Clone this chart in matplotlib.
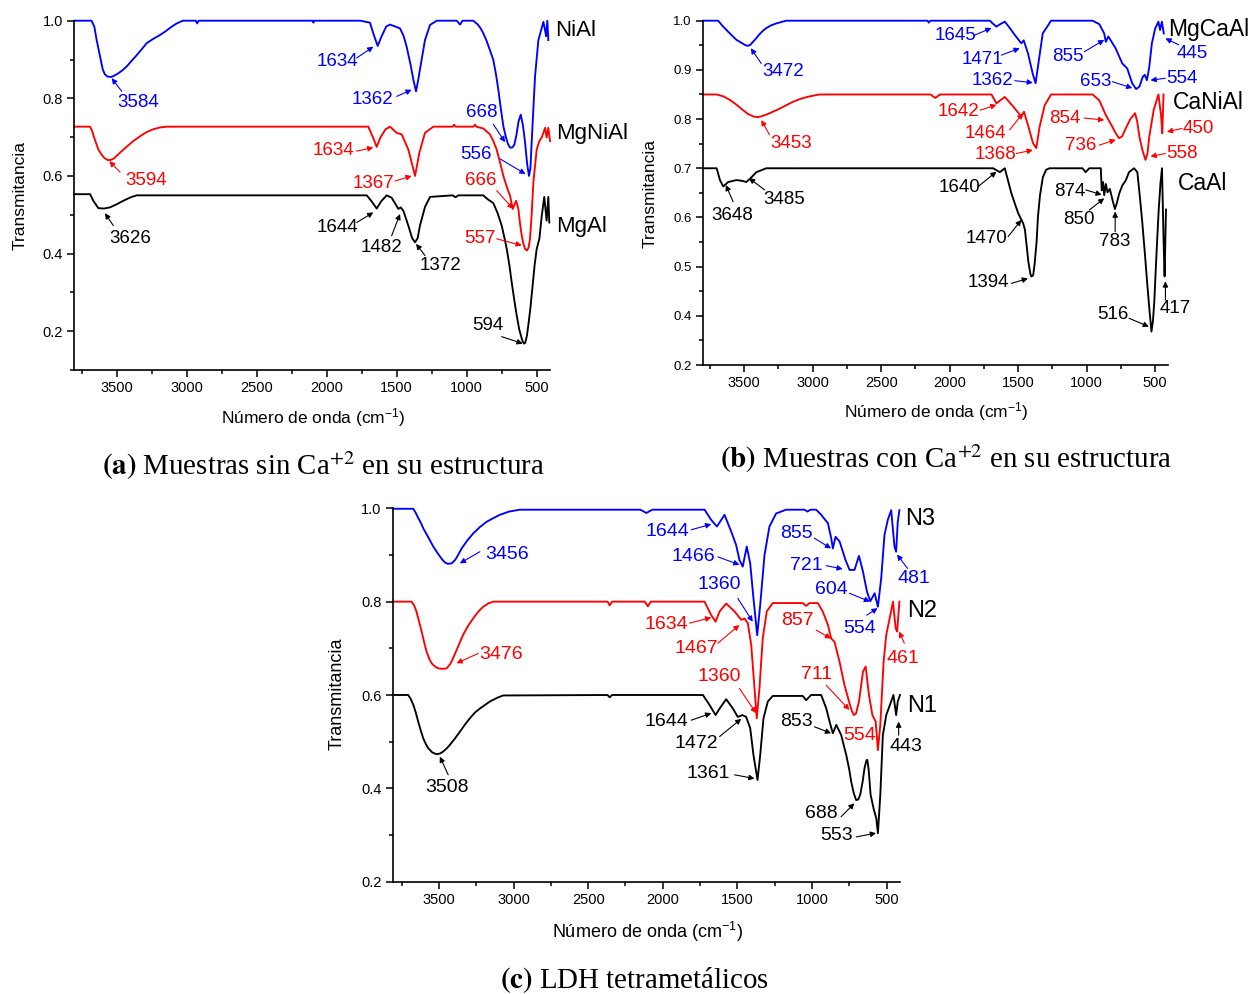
import numpy as np
import matplotlib
matplotlib.use("Agg")
import matplotlib.pyplot as plt
from matplotlib.ticker import MultipleLocator

plt.rcParams['font.family'] = ['Liberation Sans', 'DejaVu Sans']
plt.rcParams['mathtext.fontset'] = 'custom'
plt.rcParams['mathtext.rm'] = 'Liberation Sans'
plt.rcParams['mathtext.it'] = 'Liberation Sans:italic'
plt.rcParams['mathtext.bf'] = 'Liberation Sans:bold'

# ---------------------------------------------------------------- data
# (a) samples without Ca
nial_wn = [3805, 3680, 3660, 3643, 3619, 3600, 3585, 3565, 3540, 3520, 3490, 3460, 3429, 3395, 3360,
           3320, 3286, 3240, 3191, 3150, 3110, 3071, 3040, 3026, 2935, 2925, 2915, 2100, 2095, 2090,
           1760, 1691, 1665, 1636, 1610, 1575, 1548, 1510, 1476, 1450, 1429, 1400, 1381, 1362, 1345,
           1334, 1298, 1262, 1214, 1071, 1048, 1030, 953, 920, 900, 882, 860, 845, 825, 810, 790, 774,
           755, 738, 720, 705, 690, 675, 660, 645, 630, 614, 598, 583, 568, 555, 545, 536, 512, 488,
           452, 440, 433, 424, 417]
nial_t = [1.0, 1.0, 0.985, 0.95, 0.908, 0.875, 0.862, 0.856, 0.855, 0.858, 0.864, 0.872, 0.882, 0.896,
          0.91, 0.927, 0.942, 0.953, 0.963, 0.973, 0.984, 0.993, 0.998, 1.0, 1.0, 0.993, 1.0, 1.0,
          0.995, 1.0, 1.0, 0.995, 0.965, 0.935, 0.958, 0.985, 0.99, 0.985, 0.98, 0.96, 0.933, 0.885,
          0.848, 0.818, 0.85, 0.874, 0.95, 0.989, 1.0, 1.0, 0.99, 1.0, 1.0, 0.99, 0.98, 0.968, 0.95,
          0.935, 0.915, 0.899, 0.86, 0.822, 0.77, 0.728, 0.70, 0.682, 0.673, 0.673, 0.68, 0.705, 0.74,
          0.758, 0.73, 0.686, 0.63, 0.60, 0.62, 0.686, 0.856, 0.95, 0.997, 0.975, 0.96, 1.0, 0.95]

mgnial_wn = [3805, 3690, 3675, 3660, 3631, 3610, 3590, 3565, 3545, 3520, 3476, 3430, 3381, 3330, 3286,
             3240, 3191, 3140, 1703, 1670, 1643, 1615, 1580, 1548, 1500, 1464, 1417, 1390, 1369, 1338,
             1298, 1238, 1100, 1090, 1080, 953, 940, 930, 880, 834, 810, 786, 762, 738, 712, 690, 671,
             660, 647, 631, 620, 607, 595, 583, 570, 558, 548, 536, 524, 500, 481, 464, 440, 429, 417,
             405]
mgnial_t = [0.727, 0.727, 0.715, 0.698, 0.668, 0.656, 0.647, 0.641, 0.641, 0.645, 0.66, 0.675, 0.69,
            0.703, 0.713, 0.72, 0.725, 0.727, 0.727, 0.70, 0.675, 0.70, 0.72, 0.727, 0.711, 0.707,
            0.668, 0.63, 0.60, 0.66, 0.711, 0.727, 0.727, 0.732, 0.727, 0.727, 0.732, 0.727, 0.722,
            0.707, 0.69, 0.668, 0.635, 0.60, 0.57, 0.549, 0.515, 0.525, 0.536, 0.515, 0.48, 0.446,
            0.425, 0.412, 0.408, 0.415, 0.438, 0.50, 0.583, 0.668, 0.69, 0.699, 0.724, 0.699, 0.724,
            0.69]

mgal_wn = [3805, 3690, 3667, 3631, 3590, 3548, 3500, 3453, 3400, 3357, 1714, 1680, 1643, 1610, 1572,
           1536, 1488, 1471, 1452, 1417, 1390, 1369, 1350, 1334, 1298, 1262, 1100, 1080, 1060, 882,
           850, 810, 780, 750, 730, 714, 695, 679, 660, 643, 625, 607, 598, 590, 582, 570, 560, 545,
           529, 515, 500, 481, 464, 446, 429, 417, 410]
mgal_t = [0.553, 0.553, 0.536, 0.517, 0.516, 0.519, 0.527, 0.536, 0.545, 0.55, 0.55, 0.535, 0.516,
          0.535, 0.55, 0.544, 0.515, 0.519, 0.51, 0.472, 0.44, 0.429, 0.44, 0.472, 0.52, 0.546, 0.55,
          0.545, 0.55, 0.55, 0.54, 0.53, 0.505, 0.472, 0.44, 0.412, 0.37, 0.327, 0.28, 0.241, 0.205,
          0.181, 0.172, 0.168, 0.17, 0.188, 0.215, 0.26, 0.318, 0.37, 0.412, 0.438, 0.497, 0.546,
          0.485, 0.546, 0.48]

# (b) samples with Ca
mgcaal_wn = [3803, 3690, 3660, 3629, 3590, 3556, 3520, 3490, 3472, 3455, 3436, 3410, 3390, 3365, 3339,
             3300, 3260, 3193, 2160, 2153, 2140, 1706, 1680, 1658, 1630, 1597, 1560, 1524, 1476, 1459,
             1428, 1391, 1372, 1348, 1320, 1259, 956, 907, 871, 859, 841, 788, 739, 703, 667, 638, 614,
             589, 575, 559, 542, 523, 499, 475, 463, 450, 436]
mgcaal_t = [1.0, 1.0, 0.99, 0.981, 0.97, 0.961, 0.955, 0.95, 0.949, 0.951, 0.957, 0.965, 0.972, 0.979,
            0.985, 0.991, 0.995, 1.0, 1.0, 0.996, 1.0, 1.0, 0.993, 0.988, 0.993, 0.998, 0.985, 0.971,
            0.954, 0.96, 0.934, 0.89, 0.873, 0.92, 0.974, 1.0, 1.0, 0.993, 0.974, 0.957, 0.968, 0.944,
            0.913, 0.903, 0.873, 0.861, 0.866, 0.886, 0.89, 0.879, 0.906, 0.954, 0.984, 0.998, 0.981,
            0.998, 0.974]

canial_wn = [3803, 3701, 3650, 3605, 3560, 3508, 3470, 3430, 3399, 3370, 3330, 3266, 3200, 3145, 3080,
             3024, 2950, 2140, 2105, 2070, 1694, 1658, 1630, 1597, 1537, 1476, 1457, 1428, 1391, 1367,
             1343, 1306, 1259, 956, 907, 859, 811, 785, 762, 740, 714, 680, 646, 630, 614, 590, 570,
             555, 542, 510, 475, 456, 447, 438]
canial_t = [0.85, 0.85, 0.846, 0.839, 0.83, 0.818, 0.81, 0.805, 0.804, 0.806, 0.81, 0.818, 0.827, 0.835,
            0.842, 0.846, 0.85, 0.85, 0.843, 0.85, 0.85, 0.832, 0.838, 0.845, 0.826, 0.805, 0.815,
            0.788, 0.751, 0.741, 0.784, 0.828, 0.85, 0.85, 0.838, 0.808, 0.784, 0.77, 0.761, 0.765,
            0.781, 0.80, 0.812, 0.795, 0.764, 0.735, 0.717, 0.73, 0.764, 0.818, 0.85, 0.808, 0.771,
            0.85]

caal_wn = [3803, 3701, 3677, 3653, 3617, 3556, 3508, 3485, 3460, 3411, 3339, 1682, 1633, 1597, 1549,
           1500, 1463, 1450, 1439, 1425, 1410, 1403, 1390, 1379, 1365, 1355, 1340, 1319, 1295, 1270,
           1030, 1007, 980, 944, 896, 889, 879, 871, 859, 847, 830, 810, 793, 778, 762, 739, 714, 690,
           653, 629, 610, 593, 575, 557, 540, 526, 515, 505, 497, 485, 473, 460, 449, 437, 430, 420]
caal_t = [0.70, 0.70, 0.676, 0.663, 0.672, 0.676, 0.674, 0.672, 0.678, 0.692, 0.70, 0.70, 0.692, 0.70,
          0.649, 0.609, 0.588, 0.575, 0.547, 0.51, 0.485, 0.48, 0.482, 0.506, 0.55, 0.601, 0.645,
          0.682, 0.697, 0.70, 0.70, 0.692, 0.70, 0.70, 0.70, 0.655, 0.672, 0.645, 0.668, 0.651, 0.658,
          0.635, 0.617, 0.63, 0.648, 0.665, 0.675, 0.692, 0.70, 0.692, 0.64, 0.59, 0.53, 0.466, 0.41,
          0.368, 0.39, 0.43, 0.48, 0.55, 0.616, 0.67, 0.70, 0.547, 0.48, 0.616]

# (c) tetrametallic LDH
n3_wn = [3810, 3672, 3655, 3640, 3620, 3605, 3570, 3538, 3505, 3480, 3460, 3440, 3415, 3390, 3370, 3348,
         3310, 3271, 3225, 3181, 3135, 3092, 3030, 2958, 2150, 2110, 2070, 1720, 1675, 1637, 1586, 1541,
         1508, 1486, 1464, 1437, 1414, 1392, 1367, 1347, 1318, 1285, 1240, 1173, 1050, 1030, 1010, 972,
         938, 893, 871, 860, 842, 815, 775, 748, 715, 685, 658, 631, 609, 580, 558, 536, 514, 492, 469,
         447, 436, 425, 414]
n3_t = [0.999, 0.999, 0.99, 0.98, 0.968, 0.957, 0.937, 0.918, 0.902, 0.891, 0.884, 0.881, 0.882, 0.89,
        0.901, 0.914, 0.931, 0.946, 0.96, 0.971, 0.979, 0.986, 0.993, 0.997, 0.997, 0.99, 0.997, 0.997,
        0.975, 0.961, 0.986, 0.95, 0.921, 0.889, 0.875, 0.918, 0.882, 0.807, 0.728, 0.793, 0.9, 0.961,
        0.989, 0.997, 0.997, 0.993, 0.997, 0.997, 0.986, 0.968, 0.936, 0.914, 0.939, 0.929, 0.889,
        0.868, 0.868, 0.898, 0.864, 0.821, 0.801, 0.818, 0.789, 0.85, 0.943, 0.975, 0.996, 0.918,
        0.907, 0.971, 0.996]

n2_wn = [3810, 3683, 3665, 3650, 3633, 3616, 3600, 3583, 3566, 3549, 3527, 3505, 3470, 3449, 3425, 3405,
         3370, 3338, 3305, 3271, 3238, 3204, 3170, 3137, 2370, 2356, 2340, 2120, 2100, 2080, 1720, 1675,
         1646, 1619, 1575, 1519, 1474, 1452, 1430, 1407, 1385, 1370, 1352, 1330, 1303, 1263, 1062, 1039,
         1016, 961, 928, 893, 871, 849, 815, 782, 748, 735, 720, 705, 685, 658, 640, 618, 595, 573, 558,
         542, 520, 502, 484, 457, 439, 429, 414]
n2_t = [0.80, 0.80, 0.791, 0.778, 0.757, 0.736, 0.714, 0.693, 0.678, 0.668, 0.661, 0.657, 0.656, 0.657,
        0.666, 0.679, 0.705, 0.729, 0.748, 0.764, 0.778, 0.789, 0.796, 0.80, 0.80, 0.792, 0.80, 0.80,
        0.79, 0.80, 0.80, 0.771, 0.757, 0.779, 0.796, 0.779, 0.761, 0.764, 0.754, 0.707, 0.614, 0.55,
        0.614, 0.721, 0.779, 0.797, 0.797, 0.791, 0.797, 0.797, 0.779, 0.75, 0.721, 0.714, 0.671,
        0.621, 0.582, 0.568, 0.557, 0.56, 0.586, 0.65, 0.661, 0.60, 0.557, 0.543, 0.482, 0.536, 0.671,
        0.729, 0.757, 0.80, 0.743, 0.736, 0.80]

n1_wn = [3810, 3706, 3690, 3672, 3655, 3639, 3622, 3605, 3588, 3572, 3545, 3516, 3490, 3471, 3450, 3427,
         3395, 3360, 3325, 3293, 3260, 3226, 3190, 3159, 3110, 3070, 2370, 2356, 2340, 1731, 1687, 1646,
         1619, 1575, 1530, 1497, 1467, 1441, 1414, 1392, 1365, 1347, 1325, 1296, 1263, 1062, 1039, 1006,
         938, 904, 882, 860, 837, 804, 770, 750, 737, 720, 704, 690, 677, 660, 648, 635, 629, 620, 607,
         585, 569, 558, 542, 525, 502, 454, 436, 425, 410]
n1_t = [0.60, 0.60, 0.592, 0.579, 0.562, 0.543, 0.524, 0.507, 0.495, 0.486, 0.477, 0.473, 0.475, 0.479,
        0.485, 0.493, 0.506, 0.521, 0.537, 0.55, 0.562, 0.571, 0.579, 0.586, 0.594, 0.599, 0.60, 0.595,
        0.60, 0.60, 0.579, 0.557, 0.571, 0.591, 0.571, 0.553, 0.557, 0.553, 0.529, 0.471, 0.418, 0.471,
        0.55, 0.586, 0.598, 0.598, 0.589, 0.60, 0.60, 0.571, 0.543, 0.518, 0.536, 0.514, 0.471, 0.44,
        0.414, 0.39, 0.375, 0.376, 0.386, 0.415, 0.443, 0.46, 0.461, 0.44, 0.386, 0.354, 0.336, 0.304,
        0.386, 0.514, 0.557, 0.60, 0.557, 0.586, 0.60]

# peak labels (wavenumbers, cm-1) and which curve each belongs to
a_peaks = ['3584', '1634', '1362', '668', '556',
           '1634', '3594', '1367', '666', '557',
           '3626', '1644', '1482', '1372', '594']
a_peak_curve = ['NiAl'] * 5 + ['MgNiAl'] * 5 + ['MgAl'] * 5

b_peaks = ['3472', '1645', '1471', '1362', '855', '653', '554', '445',
           '3453', '1642', '1464', '1368', '854', '736', '450', '558',
           '3648', '3485', '1640', '1470', '1394', '874', '850', '783', '516', '417']
b_peak_curve = ['MgCaAl'] * 8 + ['CaNiAl'] * 8 + ['CaAl'] * 10

c_peaks = ['3456', '1644', '1466', '1360', '855', '721', '604', '554', '481',
           '3476', '1634', '1467', '1360', '857', '711', '461', '554',
           '3508', '1644', '1472', '1361', '853', '688', '553', '443']
c_peak_curve = ['N3'] * 9 + ['N2'] * 8 + ['N1'] * 8

# ---------------------------------------------------------------- layout
# label placement: (text centre, arrow tail, arrow head) in data units
a_peak_pos = [
    ((3347, 0.789), (3464, 0.818), (3536, 0.852)),
    ((1926, 0.894), (1786, 0.904), (1667, 0.933)),
    ((1676, 0.797), (1500, 0.805), (1393, 0.822)),
    ((891, 0.763), (810, 0.733), (726, 0.687)),
    ((934, 0.656), (762, 0.644), (580, 0.605)),
    ((1955, 0.666), (1786, 0.664), (1667, 0.673)),
    ((3291, 0.589), (3476, 0.610), (3553, 0.638)),
    ((1669, 0.581), (1512, 0.587), (1393, 0.600)),
    ((898, 0.589), (786, 0.562), (667, 0.515)),
    ((905, 0.438), (786, 0.438), (607, 0.421)),
    ((3405, 0.440), (3524, 0.472), (3584, 0.504)),
    ((1926, 0.466), (1786, 0.480), (1667, 0.506)),
    ((1612, 0.415), (1536, 0.446), (1476, 0.502)),
    ((1190, 0.368), (1298, 0.395), (1362, 0.425)),
    ((847, 0.215), (750, 0.186), (600, 0.168)),
]
b_peak_pos = [
    ((3218, 0.896), (3375, 0.913), (3452, 0.944)),
    ((1958, 0.969), (1815, 0.971), (1694, 0.985)),
    ((1762, 0.922), (1622, 0.930), (1488, 0.944)),
    ((1689, 0.879), (1524, 0.878), (1392, 0.874)),
    ((1137, 0.927), (1016, 0.937), (871, 0.961)),
    ((932, 0.876), (811, 0.876), (666, 0.863)),
    ((303, 0.883), (424, 0.883), (533, 0.879)),
    ((230, 0.934), (327, 0.951), (424, 0.964)),
    ((3157, 0.751), (3315, 0.768), (3375, 0.798)),
    ((1936, 0.816), (1778, 0.818), (1658, 0.829)),
    ((1740, 0.770), (1561, 0.778), (1464, 0.812)),
    ((1667, 0.727), (1513, 0.730), (1392, 0.737)),
    ((1161, 0.802), (1016, 0.802), (871, 0.798)),
    ((1041, 0.747), (907, 0.747), (787, 0.758)),
    ((182, 0.781), (303, 0.781), (413, 0.774)),
    ((303, 0.730), (424, 0.730), (533, 0.724)),
    ((3585, 0.603), (3581, 0.632), (3634, 0.666)),
    ((3206, 0.637), (3351, 0.656), (3465, 0.680)),
    ((1929, 0.660), (1791, 0.663), (1658, 0.693)),
    ((1733, 0.558), (1573, 0.561), (1476, 0.595)),
    ((1718, 0.467), (1549, 0.466), (1428, 0.476)),
    ((1125, 0.652), (1005, 0.656), (889, 0.646)),
    ((1053, 0.595), (980, 0.615), (871, 0.639)),
    ((791, 0.551), (791, 0.571), (791, 0.612)),
    ((811, 0.402), (690, 0.395), (545, 0.378)),
    ((352, 0.415), (424, 0.432), (424, 0.470)),
]
c_peak_pos = [
    ((3047, 0.901), (3226, 0.907), (3360, 0.882)),
    ((1966, 0.951), (1809, 0.954), (1675, 0.966)),
    ((1798, 0.896), (1631, 0.896), (1486, 0.879)),
    ((1619, 0.837), (1497, 0.807), (1397, 0.757)),
    ((1106, 0.946), (984, 0.936), (872, 0.914)),
    ((1039, 0.877), (905, 0.877), (794, 0.870)),
    ((872, 0.825), (749, 0.818), (611, 0.800)),
    ((682, 0.743), (633, 0.771), (560, 0.786)),
    ((314, 0.850), (359, 0.871), (430, 0.901)),
    ((3081, 0.687), (3237, 0.689), (3382, 0.668)),
    ((1976, 0.750), (1820, 0.754), (1675, 0.766)),
    ((1775, 0.699), (1631, 0.711), (1486, 0.750)),
    ((1619, 0.639), (1486, 0.614), (1374, 0.561)),
    ((1095, 0.759), (972, 0.739), (872, 0.721)),
    ((972, 0.643), (905, 0.621), (749, 0.568)),
    ((393, 0.679), (381, 0.711), (416, 0.736)),
    ((682, 0.514), None, None),
    ((3449, 0.401), (3438, 0.429), (3494, 0.468)),
    ((1976, 0.543), (1809, 0.546), (1675, 0.561)),
    ((1775, 0.496), (1619, 0.511), (1474, 0.549)),
    ((1698, 0.432), (1519, 0.429), (1385, 0.421)),
    ((1106, 0.543), (984, 0.532), (872, 0.518)),
    ((939, 0.346), (805, 0.339), (716, 0.368)),
    ((838, 0.300), (704, 0.296), (571, 0.304)),
    ((370, 0.489), (419, 0.514), (419, 0.543)),
]

BLUE, RED, BLACK = '#0000ff', '#ff0000', '#000000'
W, H = 1256, 994


def fx(x):
    return x / W


def fy(y):
    return 1 - y / H


def box(l, t, r, b):
    return [fx(l), fy(b), (r - l) / W, (b - t) / H]


fig = plt.figure(figsize=(W / 100, H / 100), dpi=100)


def style(ax, xlim, ylim, yticks, ylabels, yminor):
    ax.set_xlim(*xlim)
    ax.set_ylim(*ylim)
    for s in ('top', 'right'):
        ax.spines[s].set_visible(False)
    for s in ('left', 'bottom'):
        ax.spines[s].set_linewidth(1.2)
    ax.xaxis.set_major_locator(MultipleLocator(500))
    ax.xaxis.set_minor_locator(MultipleLocator(250))
    ax.set_yticks(yticks, ylabels)
    ax.yaxis.set_minor_locator(MultipleLocator(yminor))
    ax.tick_params(which='major', direction='out', length=5, width=1.1, labelsize=10.5, pad=3)
    ax.tick_params(which='minor', direction='out', length=3, width=1.1)
    ax.patch.set_alpha(0)


def draw_panel(ax, curves, names, labels, label_curve, positions, fsize, name_size):
    colors = {}
    for (wn, t, c, name), (nx, ny) in zip(curves, names):
        ax.plot(wn, t, color=c, lw=1.35, clip_on=False, solid_joinstyle='round')
        ax.text(nx, ny, name, color='black', fontsize=name_size, ha='left', va='center')
        colors[name] = c
    for lab, cname, (txt, tail, head) in zip(labels, label_curve, positions):
        c = colors[cname]
        ax.text(txt[0], txt[1], lab, color=c, fontsize=fsize, ha='center', va='center')
        if tail is not None:
            ax.annotate('', xy=head, xytext=tail,
                        arrowprops=dict(arrowstyle='-|>', color=c, lw=0.8,
                                        mutation_scale=8, shrinkA=0, shrinkB=0))


# (a)
ax_a = fig.add_axes(box(74, 20.7, 550, 370))
style(ax_a, (3805, 405), (0.1, 1.0), [0.2, 0.4, 0.6, 0.8, 1.0],
      ['0.2', '0.4', '0.6', '0.8', '1.0'], 0.1)
draw_panel(ax_a,
           [(nial_wn, nial_t, BLUE, 'NiAl'), (mgnial_wn, mgnial_t, RED, 'MgNiAl'),
            (mgal_wn, mgal_t, BLACK, 'MgAl')],
           [(369, 0.976), (362, 0.709), (362, 0.470)],
           a_peaks, a_peak_curve, a_peak_pos, 13.5, 16)

# (b)
ax_b = fig.add_axes(box(702.7, 20.7, 1168.3, 365))
style(ax_b, (3803, 403), (0.3, 1.0), [0.3, 0.4, 0.5, 0.6, 0.7, 0.8, 0.9, 1.0],
      ['0.2', '0.4', '0.5', '0.6', '0.7', '0.8', '0.9', '1.0'], 0.05)
ax_b.tick_params(axis='y', labelsize=9.5)
draw_panel(ax_b,
           [(mgcaal_wn, mgcaal_t, BLUE, 'MgCaAl'), (canial_wn, canial_t, RED, 'CaNiAl'),
            (caal_wn, caal_t, BLACK, 'CaAl')],
           [(405, 0.983), (369, 0.833), (332, 0.670)],
           b_peaks, b_peak_curve, b_peak_pos, 13.5, 16.5)

# (c)
ax_c = fig.add_axes(box(392.7, 508.3, 900, 881.7))
style(ax_c, (3810, 410), (0.2, 1.0), [0.2, 0.4, 0.6, 0.8, 1.0],
      ['0.2', '0.4', '0.6', '0.8', '1.0'], 0.1)
draw_panel(ax_c,
           [(n3_wn, n3_t, BLUE, 'N3'), (n2_wn, n2_t, RED, 'N2'), (n1_wn, n1_t, BLACK, 'N1')],
           [(375, 0.977), (361, 0.780), (361, 0.577)],
           c_peaks, c_peak_curve, c_peak_pos, 14, 17)

# axis titles
xlab = 'Número de onda (cm$^{-1}$)'
fig.text(fx(313), fy(418), xlab, ha='center', va='center', fontsize=12.5)
fig.text(fx(936), fy(412), xlab, ha='center', va='center', fontsize=12.5)
fig.text(fx(648), fy(932), xlab, ha='center', va='center', fontsize=13)
fig.text(fx(20), fy(195), 'Transmitancia', rotation=90, ha='center', va='center', fontsize=12.5)
fig.text(fx(650), fy(193), 'Transmitancia', rotation=90, ha='center', va='center', fontsize=12.5)
fig.text(fx(337), fy(694), 'Transmitancia', rotation=90, ha='center', va='center', fontsize=13)

# sub-figure captions
cap = dict(ha='center', va='baseline', fontsize=20.8, family='Liberation Serif', math_fontfamily='stix')
fig.text(fx(323), fy(475), r'$\mathbf{(a)}$ Muestras sin Ca$^{+2}$ en su estructura', **cap)
fig.text(fx(946), fy(468), r'$\mathbf{(b)}$ Muestras con Ca$^{+2}$ en su estructura', **cap)
fig.text(fx(634), fy(988), r'$\mathbf{(c)}$ LDH tetrametálicos', **cap)

fig.savefig('out.png', dpi=100)
